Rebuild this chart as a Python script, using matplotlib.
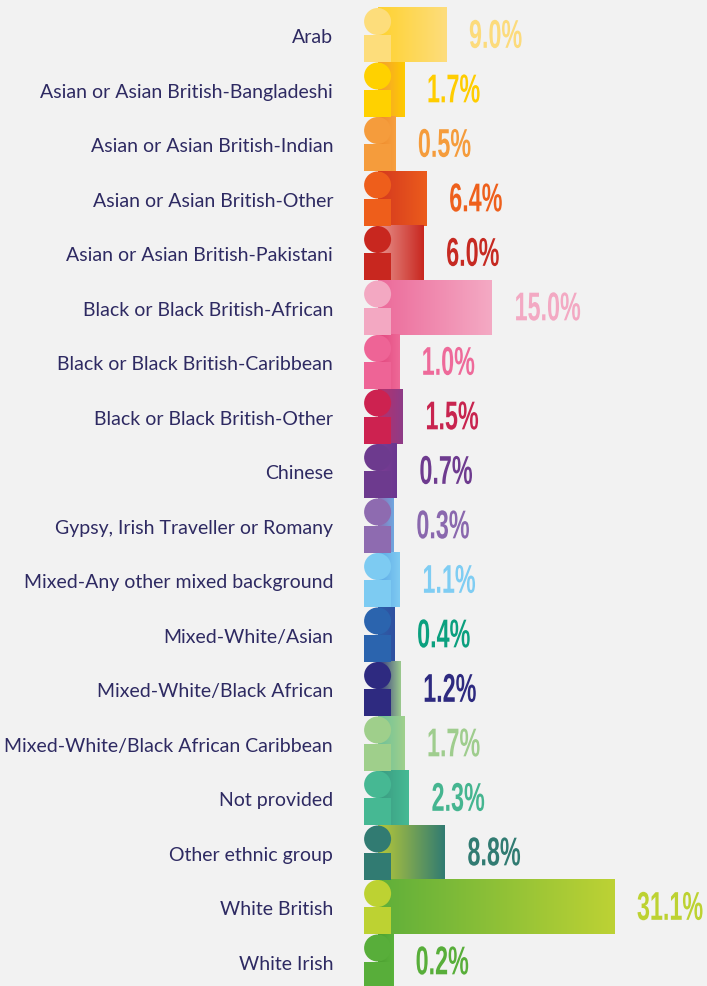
import numpy as np
import matplotlib.pyplot as plt
from matplotlib.colors import LinearSegmentedColormap
from matplotlib.patches import Ellipse, Rectangle
from matplotlib.patheffects import AbstractPathEffect
from matplotlib.transforms import Affine2D

groups = [
    "Arab",
    "Asian or Asian British-Bangladeshi",
    "Asian or Asian British-Indian",
    "Asian or Asian British-Other",
    "Asian or Asian British-Pakistani",
    "Black or Black British-African",
    "Black or Black British-Caribbean",
    "Black or Black British-Other",
    "Chinese",
    "Gypsy, Irish Traveller or Romany",
    "Mixed-Any other mixed background",
    "Mixed-White/Asian",
    "Mixed-White/Black African",
    "Mixed-White/Black African Caribbean",
    "Not provided",
    "Other ethnic group",
    "White British",
    "White Irish",
]
shares = [9.0, 1.7, 0.5, 6.4, 6.0, 15.0, 1.0, 1.5, 0.7, 0.3,
          1.1, 0.4, 1.2, 1.7, 2.3, 8.8, 31.1, 0.2]

icon_colors = ["#FDDD7B", "#FFD100", "#F59C3C", "#EE5E1B", "#C8271F", "#F3A8C2",
               "#EE6496", "#CD2250", "#6D3A8E", "#8E6BB0", "#7DCBF2", "#2B64AE",
               "#2E2A80", "#9FCF8B", "#46B893", "#317B72", "#BDD232", "#58AE3A"]
value_colors = ["#FCDB7C", "#FFCD00", "#F59C3C", "#EE601C", "#C62A22", "#F3A9C3",
                "#EE6A9A", "#C8244F", "#6E3B8F", "#8A68AE", "#7FCDF3", "#0BA07F",
                "#2E2A80", "#9FCD8E", "#45B590", "#317B72", "#BDD232", "#58AE3A"]
grad_left = ["#FFD22F", "#F39C34", "#EE8A2A", "#D4391F", "#E8948F", "#EC6A9A",
             "#E2457D", "#B8306A", "#7D3F94", "#8E6BB0", "#5AA8E5", "#2C5FA8",
             "#2E2A80", "#6CC09A", "#3A9A80", "#B7C838", "#5FAF3A", "#4C9E30"]
grad_right = ["#FDDD7D", "#FFCC00", "#F7A040", "#EC5C1C", "#C8271F", "#F4AAC4",
              "#EE6A98", "#8E3C88", "#6A3790", "#6FA8E0", "#80CBF2", "#3050A0",
              "#9CCB8E", "#A0D08C", "#46BA95", "#317B72", "#BDD234", "#5AB43C"]

BG = "#F2F2F2"
TEXT = "#2E2A62"


class Stretch(AbstractPathEffect):
    """Stretch the glyphs vertically around a fixed display y (tall, narrow look)."""

    def __init__(self, y_anchor, sy):
        super().__init__()
        self.y_anchor = y_anchor
        self.sy = sy

    def draw_path(self, renderer, gc, tpath, affine, rgbFace=None):
        stretch = (Affine2D().translate(0, -self.y_anchor)
                   .scale(1, self.sy).translate(0, self.y_anchor))
        renderer.draw_path(gc, tpath, affine + stretch, rgbFace)


plt.rcParams["font.family"] = ["Lato", "DejaVu Sans"]

fig = plt.figure(figsize=(7.07, 9.87), dpi=100, facecolor=BG)
ax = fig.add_axes([0, 0, 1, 1])
ax.set_facecolor(BG)

px_per_unit = 7.6      # horizontal pixels per percentage point
row_px = 54.5          # vertical pixels per row
x0 = 377.6             # zero line in pixels
ax.set_xlim(-x0 / px_per_unit, (707 - x0) / px_per_unit)
ax.set_ylim((987 - 36) / row_px, -36 / row_px)
ax.axis("off")

icon_w = 27 / px_per_unit
icon_h = 27 / row_px
icon_left = -13.5 / px_per_unit
icon_right = icon_left + icon_w
grad = np.linspace(0, 1, 256).reshape(1, -1)

for i, (name, v) in enumerate(zip(groups, shares)):
    # short bars are pushed past the icon so they stay visible
    end = v if v >= 5 else icon_right + v
    cmap = LinearSegmentedColormap.from_list(f"g{i}", [grad_left[i], grad_right[i]])
    ax.imshow(grad, extent=[0, end, i + 0.5, i - 0.5],
              cmap=cmap, aspect="auto", interpolation="bicubic", zorder=1)

    # icon: circle over a square
    ax.add_patch(Rectangle((icon_left, i), icon_w, icon_h,
                           facecolor=icon_colors[i], edgecolor="none", zorder=2))
    ax.add_patch(Ellipse((icon_left + icon_w / 2, i - icon_h / 2), icon_w, icon_h,
                         facecolor=icon_colors[i], edgecolor="none", zorder=2))

    lx = end + 23 / px_per_unit
    ly = i + 0.03
    anchor = ax.transData.transform((lx, ly))[1]
    ax.text(lx, ly, f"{v:.1f}%", ha="left", va="center",
            fontsize=16.8, fontweight="bold", color=value_colors[i],
            family=["Liberation Sans", "DejaVu Sans"], zorder=3,
            path_effects=[Stretch(anchor, 1.72)])
    ax.text((333 - x0) / px_per_unit, i + 0.03, name, ha="right", va="center",
            fontsize=14, color=TEXT, zorder=3)

fig.savefig("out.png", dpi=100, facecolor=BG)
